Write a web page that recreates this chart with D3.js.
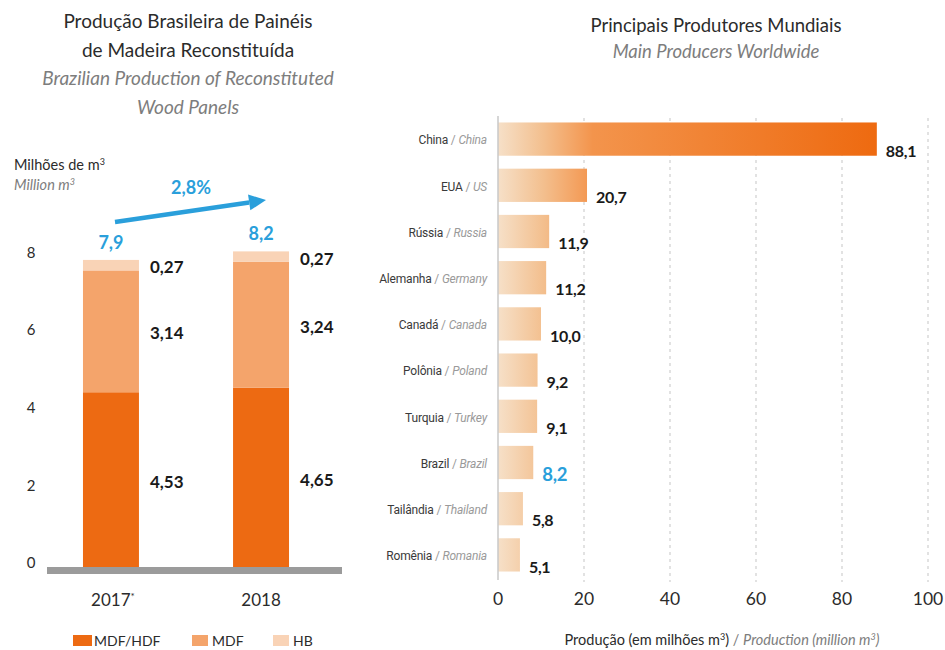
<!DOCTYPE html>
<html>
<head>
<meta charset="utf-8">
<script src="https://cdn.jsdelivr.net/npm/d3@7/dist/d3.min.js"></script>
<style>
  html, body { margin: 0; padding: 0; background: #fff; }
  svg { display: block; font-family: Lato, "Open Sans", sans-serif; }
</style>
</head>
<body>
<svg id="chart" width="945" height="650"></svg>
<script>
// ---- Brazilian production (stacked) ----
const years = ["2017*", "2018"];
const mdfHdf = [4.53, 4.65];
const mdf = [3.14, 3.24];
const hb = [0.27, 0.27];
const seriesNames = ["MDF/HDF", "MDF", "HB"];
const leftTicks = [0, 2, 4, 6, 8];

// ---- Main producers worldwide ----
const countriesPt = ["China", "EUA", "Rússia", "Alemanha", "Canadá", "Polônia", "Turquia", "Brazil", "Tailândia", "Romênia"];
const countriesEn = ["China", "US", "Russia", "Germany", "Canada", "Poland", "Turkey", "Brazil", "Thailand", "Romania"];
const production = [88.1, 20.7, 11.9, 11.2, 10.0, 9.2, 9.1, 8.2, 5.8, 5.1];
const rightTicks = [0, 20, 40, 60, 80, 100];

const colors = { "MDF/HDF": "#ED6A12", "MDF": "#F4A46B", "HB": "#F9D3B6" };
const blue = "#2A9FDB";
const dark = "#2b2b2b";
const grey = "#7d7d7d";

const locale = d3.formatLocale({ decimal: ",", thousands: ".", grouping: [3], currency: ["R$", ""] });
const f1 = locale.format(".1f");
const f2 = locale.format(".2f");

const svg = d3.select("#chart");

// ================= Left chart =================
const L = svg.append("g");

const titleLines = [
  { t: "Produção Brasileira de Painéis", it: false },
  { t: "de Madeira Reconstituída", it: false },
  { t: "Brazilian Production of Reconstituted", it: true },
  { t: "Wood Panels", it: true }
];
L.selectAll("text.title").data(titleLines).join("text")
  .attr("x", 188).attr("y", (d, i) => 28 + i * 28.5)
  .attr("text-anchor", "middle")
  .attr("font-size", 19)
  .attr("font-style", d => d.it ? "italic" : "normal")
  .attr("fill", d => d.it ? grey : dark)
  .text(d => d.t);

L.append("text").attr("x", 14).attr("y", 170).attr("font-size", 14.5).attr("fill", dark)
  .html("Milhões de m<tspan font-size='9' dy='-5'>3</tspan>");
L.append("text").attr("x", 14).attr("y", 190).attr("font-size", 14.5).attr("fill", grey).attr("font-style", "italic")
  .html("Million m<tspan font-size='9' dy='-5'>3</tspan>");

const xL = d3.scaleBand().domain(years).range([36, 336]).paddingInner(0.627).paddingOuter(0.313);
const yL = d3.scaleLinear().domain([0, 8]).range([568, 257.6]);

// y tick labels
L.selectAll("text.ytick").data(leftTicks).join("text")
  .attr("x", 31).attr("y", d => yL(d) - 5).attr("dy", "0.35em")
  .attr("text-anchor", "middle").attr("font-size", 15).attr("fill", dark)
  .text(d => d);

const rows = years.map((y, i) => ({ year: y, "MDF/HDF": mdfHdf[i], "MDF": mdf[i], "HB": hb[i] }));
const stack = d3.stack().keys(seriesNames)(rows);

stack.forEach(layer => {
  L.append("g").selectAll("rect").data(layer).join("rect")
    .attr("x", d => xL(d.data.year))
    .attr("width", xL.bandwidth())
    .attr("y", d => yL(d[1]))
    .attr("height", d => yL(d[0]) - yL(d[1]))
    .attr("fill", colors[layer.key]);
  // segment value labels
  L.append("g").selectAll("text").data(layer).join("text")
    .attr("x", d => xL(d.data.year) + xL.bandwidth() + 11)
    .attr("y", d => yL((d[0] + d[1]) / 2) + 2)
    .attr("dy", "0.35em")
    .attr("font-size", 17).attr("font-weight", 700).attr("fill", "#1a1a1a")
    .text(d => f2(d.data[layer.key]));
});

// baseline
L.append("rect").attr("x", 47).attr("y", yL(0) - 1).attr("width", 295).attr("height", 7).attr("fill", "#9b9b9b");

// totals
const totals = rows.map(r => r["MDF/HDF"] + r["MDF"] + r["HB"]);
L.selectAll("text.total").data(rows).join("text")
  .attr("x", d => xL(d.year) + xL.bandwidth() / 2)
  .attr("y", (d, i) => yL(totals[i]) - 11)
  .attr("text-anchor", "middle").attr("font-size", 18).attr("font-weight", 700).attr("fill", blue)
  .text((d, i) => f1(totals[i]));

// growth arrow
const growth = (totals[1] / totals[0] - 1) * 100;
const ax0 = 115, ay0 = 222, ax1 = 266, ay1 = 200;
const ang = Math.atan2(ay1 - ay0, ax1 - ax0);
const hl = 17, hw = 8;
const bx = ax1 - hl * Math.cos(ang), by = ay1 - hl * Math.sin(ang);
L.append("line").attr("x1", ax0).attr("y1", ay0).attr("x2", bx).attr("y2", by)
  .attr("stroke", blue).attr("stroke-width", 4.5);
L.append("path")
  .attr("d", `M${ax1},${ay1} L${bx + hw * Math.sin(ang)},${by - hw * Math.cos(ang)} L${bx - hw * Math.sin(ang)},${by + hw * Math.cos(ang)} Z`)
  .attr("fill", blue);
L.append("text").attr("x", 191).attr("y", 194).attr("text-anchor", "middle")
  .attr("font-size", 18).attr("font-weight", 700).attr("fill", blue)
  .text(f1(growth) + "%");

// x labels
L.selectAll("text.xl").data(years).join("text")
  .attr("x", d => xL(d) + xL.bandwidth() / 2 + (d.endsWith("*") ? 2 : 0))
  .attr("y", 606).attr("text-anchor", "middle").attr("font-size", 17).attr("fill", dark)
  .each(function (d) {
    const t = d3.select(this);
    if (d.endsWith("*")) {
      t.text(d.slice(0, -1));
      t.append("tspan").attr("font-size", 10).attr("dy", -6).text("*");
    } else t.text(d);
  });

// legend
const legX = [73, 192, 273];
const lg = L.append("g").selectAll("g").data(seriesNames).join("g")
  .attr("transform", (d, i) => `translate(${legX[i]},635)`);
lg.append("rect").attr("width", (d, i) => i === 0 ? 19 : 16).attr("height", 11).attr("fill", d => colors[d]);
lg.append("text").attr("x", (d, i) => i === 0 ? 21 : 20).attr("y", 6).attr("dy", "0.35em")
  .attr("font-size", 14).attr("fill", dark).text(d => d);

// ================= Right chart =================
const R = svg.append("g");
R.append("text").attr("x", 716).attr("y", 32).attr("text-anchor", "middle").attr("font-size", 18.5).attr("fill", dark)
  .text("Principais Produtores Mundiais");
R.append("text").attr("x", 716).attr("y", 58).attr("text-anchor", "middle").attr("font-size", 18.5)
  .attr("font-style", "italic").attr("fill", grey).text("Main Producers Worldwide");

const xR = d3.scaleLinear().domain([0, 100]).range([498, 928]);
const yR = d3.scaleBand().domain(countriesPt).range([116, 578]).paddingInner(0.28).paddingOuter(0.14);

// dashed gridlines
R.append("g").selectAll("line").data(rightTicks.slice(1)).join("line")
  .attr("x1", d => xR(d)).attr("x2", d => xR(d))
  .attr("y1", 118).attr("y2", 582)
  .attr("stroke", "#cfcfcf").attr("stroke-width", 1.2).attr("stroke-dasharray", "3,4");

// gradient across the value axis
const defs = svg.append("defs");
const grad = defs.append("linearGradient").attr("id", "barGrad")
  .attr("gradientUnits", "userSpaceOnUse")
  .attr("x1", xR(0)).attr("x2", xR(88.1)).attr("y1", 0).attr("y2", 0);
grad.append("stop").attr("offset", 0).attr("stop-color", "#F6E0C8");
grad.append("stop").attr("offset", 0.12).attr("stop-color", "#F3BF8E");
grad.append("stop").attr("offset", 0.25).attr("stop-color", "#F3944C");
grad.append("stop").attr("offset", 1).attr("stop-color", "#EE6A10");

const data = countriesPt.map((c, i) => ({ pt: c, en: countriesEn[i], v: production[i] }));

R.append("g").selectAll("rect").data(data).join("rect")
  .attr("x", xR(0)).attr("y", d => yR(d.pt))
  .attr("width", d => xR(d.v) - xR(0)).attr("height", yR.bandwidth())
  .attr("fill", "url(#barGrad)");

// axis line
R.append("line").attr("x1", xR(0)).attr("x2", xR(0)).attr("y1", 116).attr("y2", 580)
  .attr("stroke", "#c8c8c8").attr("stroke-width", 1.5);

// country labels
R.append("g").selectAll("text").data(data).join("text")
  .attr("x", 487).attr("y", d => yR(d.pt) + yR.bandwidth() / 2 + 1).attr("dy", "0.35em")
  .attr("text-anchor", "end").attr("font-size", 12)
  .attr("font-family", "'Liberation Sans Narrow', 'Roboto', sans-serif")
  .attr("letter-spacing", -0.2)
  .each(function (d) {
    const t = d3.select(this);
    t.append("tspan").attr("fill", "#3a3a3a").text(d.pt);
    t.append("tspan").attr("fill", "#9a9a9a").text(" / ");
    t.append("tspan").attr("fill", "#9a9a9a").attr("font-style", "italic").text(d.en);
  });

// value labels
R.append("g").selectAll("text").data(data).join("text")
  .attr("x", d => xR(d.v) + 9)
  .attr("y", d => yR(d.pt) + yR.bandwidth() / 2 + 12).attr("dy", "0.35em")
  .attr("font-weight", 700)
  .attr("letter-spacing", -0.3)
  .attr("fill", d => d.pt === "Brazil" ? blue : "#1a1a1a")
  .attr("font-size", d => d.pt === "Brazil" ? 18.5 : 16)
  .text(d => f1(d.v));

// x axis tick labels
R.append("g").selectAll("text").data(rightTicks).join("text")
  .attr("x", d => xR(d)).attr("y", 599).attr("dy", "0.35em")
  .attr("text-anchor", "middle").attr("font-size", 17.5).attr("fill", dark)
  .text(d => d);

// axis title
const at = R.append("text").attr("x", 722).attr("y", 640).attr("dy", "0.35em")
  .attr("text-anchor", "middle").attr("font-size", 14.5);
at.append("tspan").attr("fill", dark).text("Produção (em milhões m");
at.append("tspan").attr("fill", dark).attr("font-size", 9).attr("dy", -5).text("3");
at.append("tspan").attr("fill", dark).attr("dy", 5).text(")");
at.append("tspan").attr("fill", grey).text(" / ");
at.append("tspan").attr("fill", grey).attr("font-style", "italic").text("Production (million m");
at.append("tspan").attr("fill", grey).attr("font-style", "italic").attr("font-size", 9).attr("dy", -5).text("3");
at.append("tspan").attr("fill", grey).attr("font-style", "italic").attr("dy", 5).text(")");
</script>
</body>
</html>
